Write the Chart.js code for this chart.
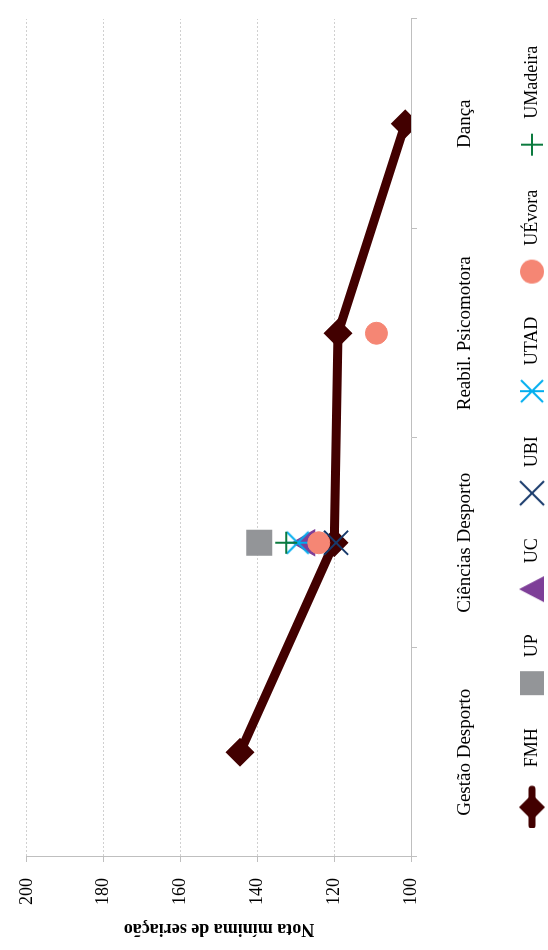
<!DOCTYPE html>
<html>
<head>
<meta charset="utf-8">
<script src="https://cdn.jsdelivr.net/npm/chart.js@4/dist/chart.umd.min.js"></script>
<style>
  html, body { margin: 0; padding: 0; background: #fff; overflow: hidden; width: 548px; height: 950px; }
  /* the chart is laid out landscape and turned a quarter turn to stand upright on the page */
  #wrap { position: absolute; left: 0; top: 0; width: 950px; height: 548px;
          transform-origin: 0 0; transform: translate(0, 950px) rotate(-90deg); }
  #c { display: block; }
</style>
</head>
<body>
<div id="wrap"><canvas id="c" width="950" height="548"></canvas></div>
<script>
// Categories (courses) and the minimum entry grade per institution
const categories = ['Gestão Desporto', 'Ciências Desporto', 'Reabil. Psicomotora', 'Dança'];
const fmh      = [144.5, 120, 119, 101.5];
const up       = [null, 139.5, null, null];
const uc       = [null, 127, null, null];
const ubi      = [null, 119.5, null, null];
const utad     = [null, 129.5, null, null];
const uevora   = [null, 124, 109, null];
const umadeira = [null, 132.5, null, null];
const yTickValues = [100, 120, 140, 160, 180, 200];

const FONT = "'Liberation Serif', 'Times New Roman', serif";
const colors = {
  FMH: '#420000', UP: '#939598', UC: '#7e3f98', UBI: '#183a6b',
  UTAD: '#00aeef', 'UÉvora': '#f58674', UMadeira: '#0b7a3e'
};

function icon(w, h, draw) {
  const c = document.createElement('canvas');
  c.width = w; c.height = h;
  draw(c.getContext('2d'));
  return c;
}

// six-spoke star marker (X with a vertical bar)
function starIcon(half, color) {
  const s = Math.ceil(half * 2 + 4);
  return icon(s, s, ctx => {
    const m = s / 2;
    ctx.strokeStyle = color; ctx.lineWidth = 2;
    ctx.beginPath();
    ctx.moveTo(m - half, m - half); ctx.lineTo(m + half, m + half);
    ctx.moveTo(m - half, m + half); ctx.lineTo(m + half, m - half);
    ctx.moveTo(m, m - half - 1); ctx.lineTo(m, m + half + 1);
    ctx.stroke();
  });
}

// legend glyphs
function legendGlyph(name) {
  const col = colors[name];
  if (name === 'FMH') {
    return icon(70, 30, ctx => {
      ctx.strokeStyle = col; ctx.lineWidth = 7; ctx.lineCap = 'round';
      ctx.beginPath(); ctx.moveTo(3, 15); ctx.lineTo(39, 15); ctx.stroke();
      ctx.fillStyle = col;
      ctx.beginPath(); ctx.moveTo(21 - 13, 15); ctx.lineTo(21, 2); ctx.lineTo(21 + 13, 15); ctx.lineTo(21, 28); ctx.closePath(); ctx.fill();
    });
  }
  if (name === 'UTAD') return starIcon(11, col);
  return icon(30, 30, ctx => {
    ctx.fillStyle = col; ctx.strokeStyle = col; ctx.lineWidth = 2;
    ctx.beginPath();
    if (name === 'UP') { ctx.rect(3, 3, 24, 24); ctx.fill(); }
    else if (name === 'UC') { ctx.moveTo(15, 2); ctx.lineTo(28, 27); ctx.lineTo(2, 27); ctx.closePath(); ctx.fill(); }
    else if (name === 'UBI') { ctx.moveTo(3, 3); ctx.lineTo(27, 27); ctx.moveTo(3, 27); ctx.lineTo(27, 3); ctx.stroke(); }
    else if (name === 'UÉvora') { ctx.arc(15, 15, 12, 0, Math.PI * 2); ctx.fill(); }
    else if (name === 'UMadeira') { ctx.moveTo(4, 15); ctx.lineTo(26, 15); ctx.moveTo(15, 4); ctx.lineTo(15, 26); ctx.stroke(); }
  });
}

function pointSet(name, data, style, radius, extra) {
  return Object.assign({
    label: name, data: data, showLine: false,
    pointStyle: style, pointRadius: radius, pointHoverRadius: radius,
    pointBackgroundColor: colors[name], pointBorderColor: colors[name],
    pointBorderWidth: 2, borderColor: colors[name], backgroundColor: colors[name]
  }, extra || {});
}

const datasets = [
  {
    label: 'FMH', data: fmh, borderColor: colors.FMH, backgroundColor: colors.FMH,
    borderWidth: 9, tension: 0, pointStyle: 'rectRot', pointRadius: 13, pointHoverRadius: 13,
    pointBackgroundColor: colors.FMH, pointBorderColor: colors.FMH, pointBorderWidth: 2, order: 7
  },
  pointSet('UP', up, 'rect', 17, {order: 6}),
  pointSet('UC', uc, 'triangle', 14, {order: 5}),
  pointSet('UBI', ubi, 'crossRot', 17, {order: 4}),
  pointSet('UTAD', utad, starIcon(11, colors.UTAD), 12, {order: 3}),
  pointSet('UÉvora', uevora, 'circle', 11, {order: 2, pointBorderWidth: 1}),
  pointSet('UMadeira', umadeira, 'cross', 11, {order: 1})
];

// nudge the legend row along and across the plot
const legendNudge = {
  id: 'legendNudge',
  afterLayout(chart) {
    const lg = chart.legend;
    if (!lg) return;
    lg.left += 10; lg.right += 10;
    lg.top += 3; lg.bottom += 3;
  }
};

new Chart(document.getElementById('c'), {
  type: 'line',
  data: { labels: categories, datasets: datasets },
  plugins: [legendNudge],
  options: {
    responsive: false,
    devicePixelRatio: 1,
    animation: false,
    events: [],
    layout: { padding: { top: 18, right: 3, left: 0, bottom: 0 } },
    plugins: {
      tooltip: { enabled: false },
      legend: {
        position: 'bottom',
        fullSize: false,
        labels: {
          usePointStyle: true,
          pointStyleWidth: 34,
          padding: 28,
          color: '#000',
          font: { family: FONT, size: 18 },
          generateLabels: chart => chart.data.datasets.map((ds, i) => ({
            text: ds.label,
            pointStyle: legendGlyph(ds.label),
            fillStyle: colors[ds.label],
            strokeStyle: colors[ds.label],
            lineWidth: 0,
            hidden: false,
            datasetIndex: i,
            fontColor: '#000'
          }))
        }
      }
    },
    scales: {
      x: {
        type: 'category',
        offset: true,
        grid: { offset: true, drawOnChartArea: false, drawTicks: true, tickLength: 6, color: '#bfbfbf' },
        border: { color: '#bfbfbf', width: 1 },
        ticks: { color: '#000', padding: 37, font: { family: FONT, size: 19 }, maxRotation: 0, autoSkip: false },
        afterFit: s => { s.height = 81; }
      },
      y: {
        min: 100, max: 200,
        afterBuildTicks: s => { s.ticks = yTickValues.map(v => ({ value: v })); },
        grid: { color: '#d0d0d0', lineWidth: 1, tickLength: 5, tickColor: '#bfbfbf', tickBorderDash: [] },
        border: { color: '#bfbfbf', width: 1, dash: [2, 2] },
        ticks: { color: '#000', padding: 16, font: { family: FONT, size: 18 } },
        title: { display: true, text: 'Nota mínima de seriação', color: '#000',
                 font: { family: FONT, size: 18, weight: 'bold' }, padding: { top: 11, bottom: 0 } },
        afterFit: s => { s.width = 93; }
      }
    }
  }
});
</script>
</body>
</html>
